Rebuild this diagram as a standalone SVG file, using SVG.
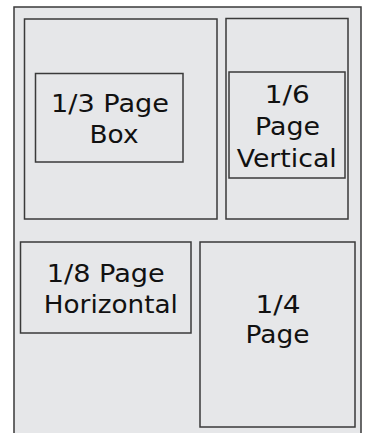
<svg xmlns="http://www.w3.org/2000/svg" width="367" height="433" viewBox="0 0 367 433">
<style>
.b{fill:#e6e7e9;stroke:#3a3a3a;stroke-width:1.5}
.t{font-family:"DejaVu Sans",Verdana,sans-serif;font-size:24px;fill:#111;text-anchor:middle}
</style>
<rect width="367" height="433" fill="#fff"/>
<g id="page"><rect class="b" x="14" y="7" width="347" height="440"/></g>
<g id="third"><rect class="b" x="24.5" y="19" width="192.5" height="200"/>
<rect class="b" x="35.5" y="73.5" width="147.5" height="88.5"/>
<text class="t" x="110" y="111.7" textLength="118" lengthAdjust="spacingAndGlyphs">1/3 Page</text>
<text class="t" x="114" y="143.3" textLength="49" lengthAdjust="spacingAndGlyphs">Box</text></g>
<g id="sixth"><rect class="b" x="226" y="18.5" width="122" height="200.5"/>
<rect class="b" x="229" y="72" width="116" height="106"/>
<text class="t" x="287.2" y="103.3" textLength="45" lengthAdjust="spacingAndGlyphs">1/6</text>
<text class="t" x="287.5" y="135" textLength="65" lengthAdjust="spacingAndGlyphs">Page</text>
<text class="t" x="286.7" y="166.7" textLength="100" lengthAdjust="spacingAndGlyphs">Vertical</text></g>
<g id="eighth"><rect class="b" x="20.5" y="242" width="170.5" height="91"/>
<text class="t" x="105.8" y="281.7" textLength="118" lengthAdjust="spacingAndGlyphs">1/8 Page</text>
<text class="t" x="110.8" y="313.3" textLength="134" lengthAdjust="spacingAndGlyphs">Horizontal</text></g>
<g id="quarter"><rect class="b" x="200" y="242" width="155" height="185"/>
<text class="t" x="278" y="313.3" textLength="45" lengthAdjust="spacingAndGlyphs">1/4</text>
<text class="t" x="277.5" y="343.3" textLength="64" lengthAdjust="spacingAndGlyphs">Page</text></g>
<g id="connectors"/>
</svg>
